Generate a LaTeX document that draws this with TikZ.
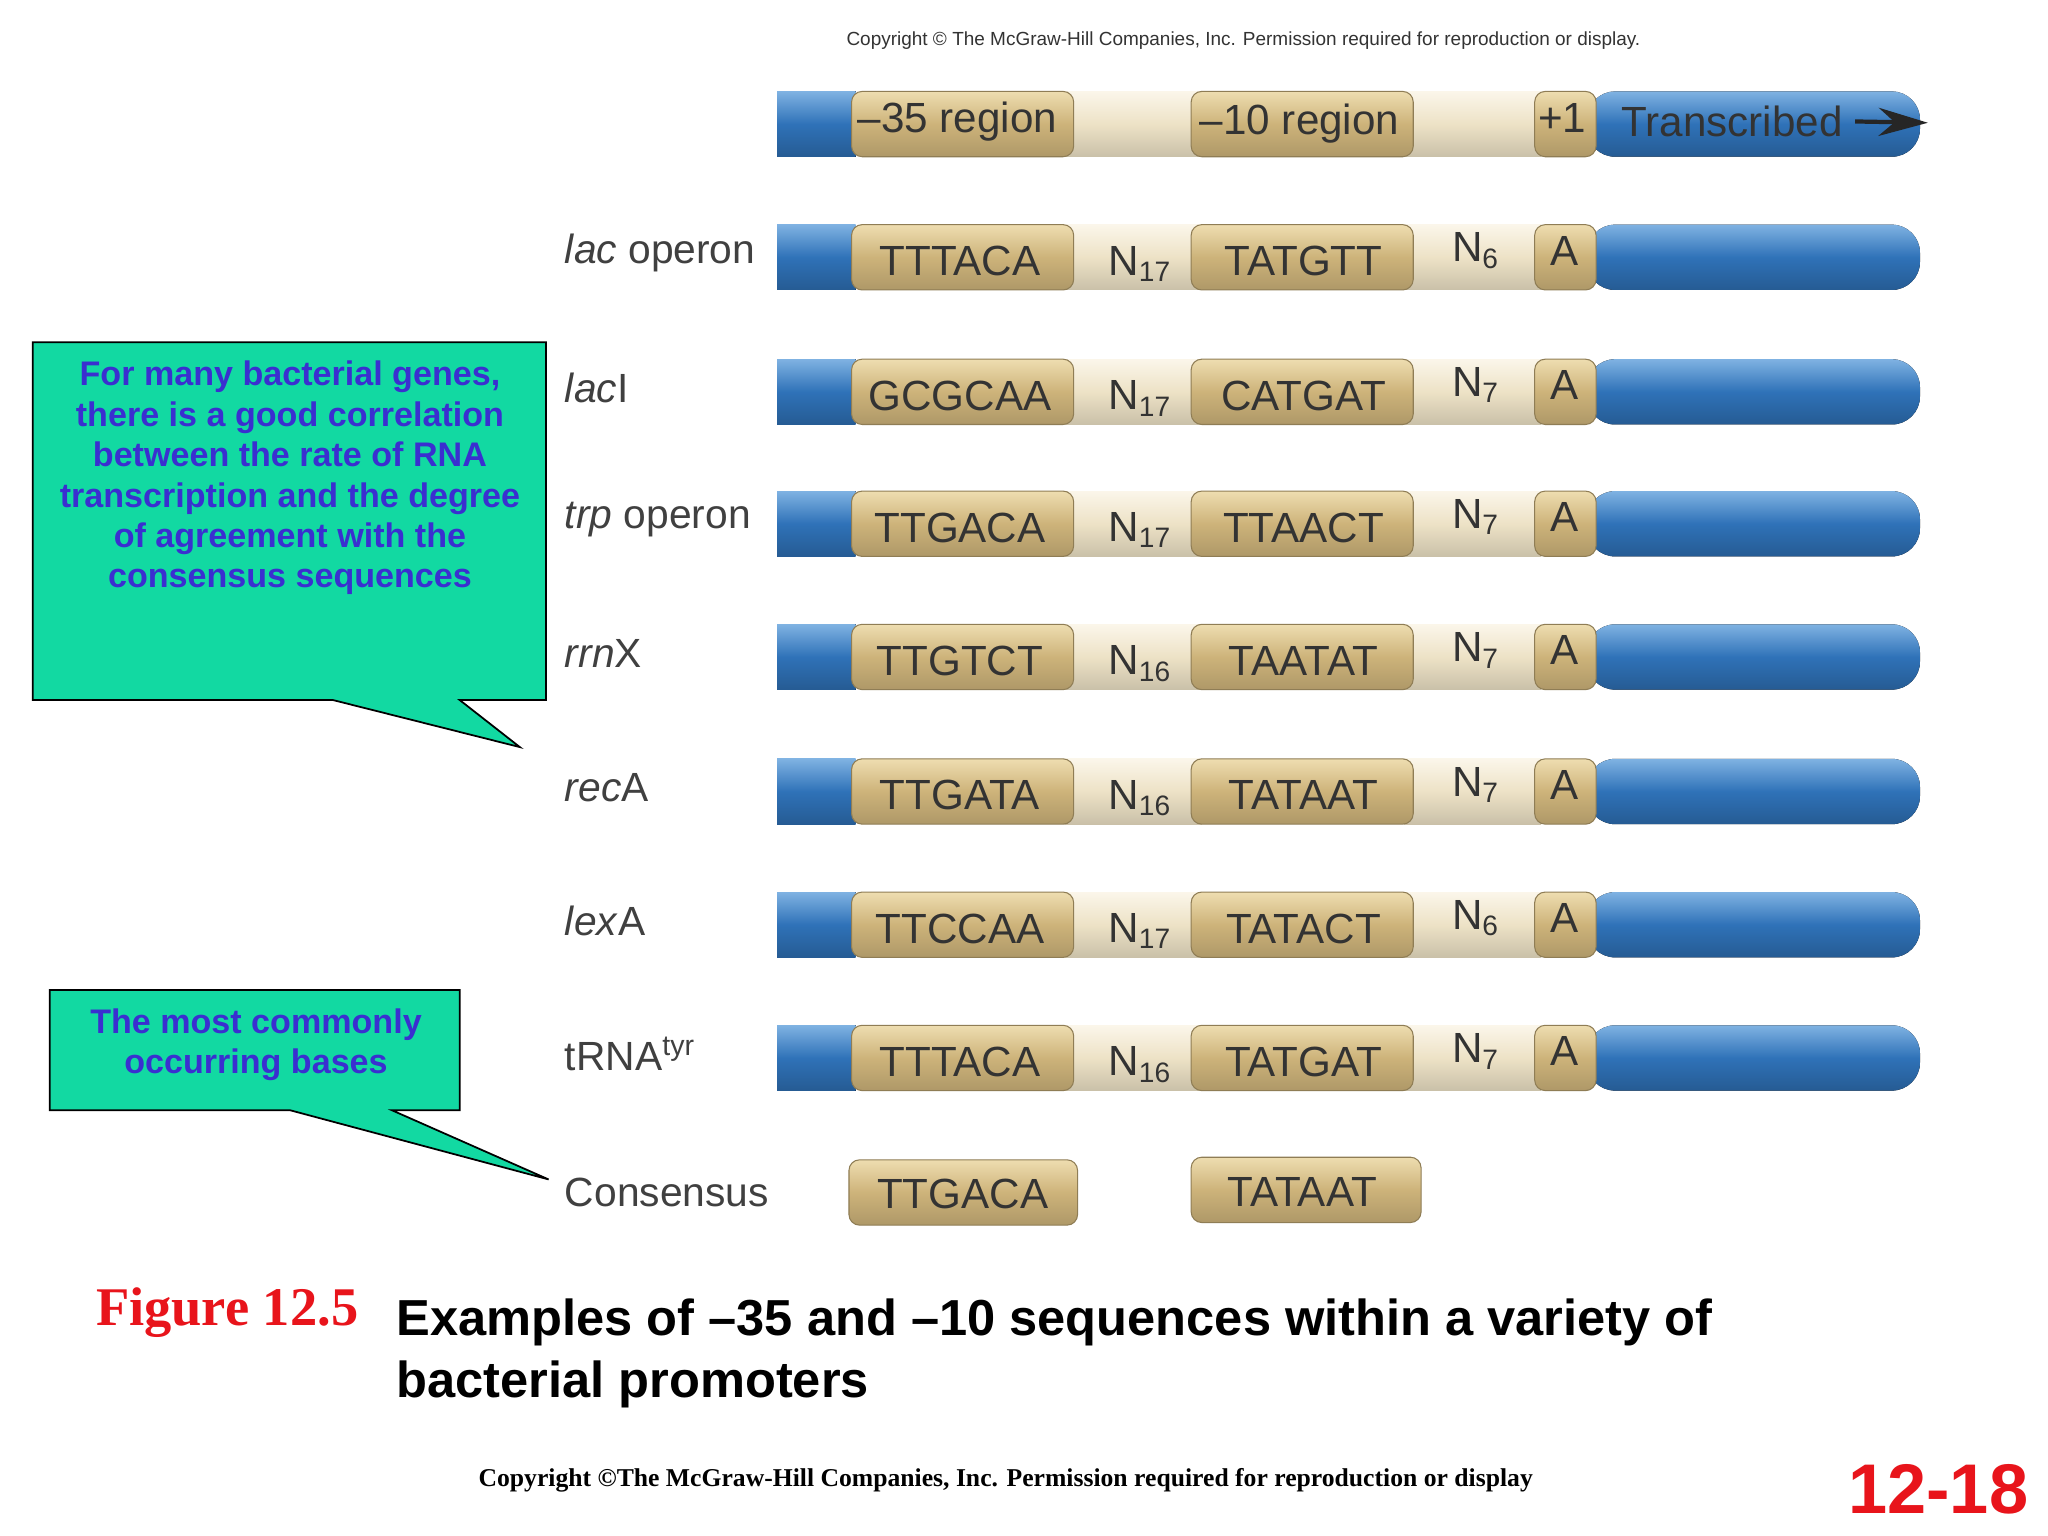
\documentclass[tikz,border=0pt]{standalone}
\usepackage{fontspec}
\setmainfont{Liberation Sans}
\newfontfamily\serif{Liberation Serif}
\usetikzlibrary{arrows.meta}
\definecolor{bluem}{HTML}{2F72B8}
\definecolor{bluel}{HTML}{7FB2E2}
\definecolor{tanm}{HTML}{CDB37A}
\definecolor{tanl}{HTML}{EEDDB0}
\definecolor{lightm}{HTML}{EDE2C6}
\definecolor{lightl}{HTML}{FBF6EA}
\definecolor{calloutg}{HTML}{12D9A2}
\definecolor{callt}{HTML}{3A2FD0}
\definecolor{figred}{HTML}{E8141B}
\tikzset{
 bluecyl/.style={top color=bluel,bottom color=bluem!80!black,middle color=bluem},
 tancyl/.style={top color=tanl,bottom color=tanm!85!black,middle color=tanm,draw=tanm!70!black,line width=0.3pt,rounded corners=3},
 ncyl/.style={top color=lightl,bottom color=lightm!85!black,middle color=lightm},
 seqtxt/.style={font=\fontsize{12}{14}\selectfont,text=black!80},
 rowlab/.style={font=\fontsize{11.6}{14}\selectfont,text=black!75,anchor=west,inner sep=0pt},
 callout/.style={fill=calloutg,draw=black,line width=0.5pt},
 calltxt/.style={font=\bfseries\fontsize{9.7}{11.5}\selectfont,text=callt,align=center},
}
\newcommand\prow[8]{%
 \fill[bluecyl] (595,#1-25) rectangle (655,#1+25);
 \fill[bluecyl,rounded corners=8] (1215,#1-25) rectangle (1470,#1+25);
 \fill[ncyl] (815,#1-25) rectangle (920,#1+25);
 \fill[ncyl] (1075,#1-25) rectangle (1180,#1+25);
 \path[tancyl] (652,#1-25) rectangle (822,#1+25);
 \path[tancyl] (912,#1-25) rectangle (1082,#1+25);
 \path[tancyl] (1175,#1-25) rectangle (1222,#1+25);
 \node[rowlab] (lab#8) at (432,#1-3) {#2};
 \node[seqtxt] (s#8) at (735,#1+3) {#3};
 \node[seqtxt] (n#8) at (873,#1+5) {#4};
 \node[seqtxt] (t#8) at (998,#1+3) {#5};
 \node[seqtxt] (m#8) at (1130,#1-5) {#6};
 \node[seqtxt] (a#8) at (1198,#1-5) {#7};
}
\begin{document}
\begin{tikzpicture}[x=0.013061cm,y=-0.013061cm]
\useasboundingbox (0,0) rectangle (1568,1176);
\fill[white] (0,0) rectangle (1568,1176);
\node[font=\fontsize{5.4}{6.5}\selectfont,text=black!80] (cpt) at (952,31) {Copyright © The McGraw-Hill Companies, Inc. Permission required for reproduction or display.};
% header
\fill[bluecyl] (595,70) rectangle (655,120);
\fill[bluecyl,rounded corners=8] (1215,70) rectangle (1470,120);
\fill[ncyl] (815,70) rectangle (920,120);
\fill[ncyl] (1075,70) rectangle (1180,120);
\path[tancyl] (652,70) rectangle (822,120);
\path[tancyl] (912,70) rectangle (1082,120);
\path[tancyl] (1175,70) rectangle (1222,120);
\node[seqtxt] (h1) at (733,93) {–35 region};
\node[seqtxt] (h2) at (995,95) {–10 region};
\node[seqtxt] (h3) at (1196,90) {+1};
\node[seqtxt,anchor=west] (h4) at (1232,93) {Transcribed};
\coordinate (arrE) at (1476,94);
\draw[-{Stealth[length=14pt,width=8pt]},line width=1.2pt,black!85] (h4.east) -- (arrE);
\prow{197}{\textit{lac} operon}{TTTACA}{N\textsubscript{17}}{TATGTT}{N\textsubscript{6}}{A}{1}
\prow{300}{\textit{lac}I}{GCGCAA}{N\textsubscript{17}}{CATGAT}{N\textsubscript{7}}{A}{2}
\prow{401}{\textit{trp} operon}{TTGACA}{N\textsubscript{17}}{TTAACT}{N\textsubscript{7}}{A}{3}
\prow{503}{\textit{rrn}X}{TTGTCT}{N\textsubscript{16}}{TAATAT}{N\textsubscript{7}}{A}{4}
\prow{606}{\textit{rec}A}{TTGATA}{N\textsubscript{16}}{TATAAT}{N\textsubscript{7}}{A}{5}
\prow{708}{\textit{lex}A}{TTCCAA}{N\textsubscript{17}}{TATACT}{N\textsubscript{6}}{A}{6}
\prow{810}{tRNA\textsuperscript{tyr}}{TTTACA}{N\textsubscript{16}}{TATGAT}{N\textsubscript{7}}{A}{7}
% consensus
\path[tancyl] (650,888) rectangle (825,938);
\path[tancyl] (912,886) rectangle (1088,936);
\node[rowlab] (lab8) at (432,913) {Consensus};
\node[seqtxt] (s8) at (737,914) {TTGACA};
\node[seqtxt] (t8) at (997,913) {TATAAT};
% callouts
\draw[callout] (25,262) -- (418,262) -- (418,536) -- (352,536) -- (398,572) -- (255,536) -- (25,536) -- cycle;
\node[calltxt] (c1) at (222,366) {For many bacterial genes,\\there is a good correlation\\between the rate of RNA\\transcription and the degree\\of agreement with the\\consensus sequences};
\draw[callout] (38,758) -- (352,758) -- (352,850) -- (300,850) -- (420,903) -- (222,850) -- (38,850) -- cycle;
\node[calltxt] (c2) at (196,800) {The most commonly\\occurring bases};
% caption
\node[anchor=west,font=\serif\bfseries\fontsize{15.5}{18}\selectfont,text=figred] (fig) at (64,1005) {Figure 12.5};
\node[anchor=north west,font=\bfseries\fontsize{14.4}{17.6}\selectfont,align=left] (cap) at (294,985) {Examples of –35 and –10 sequences within a variety of\\bacterial promoters};
\node[font=\serif\bfseries\fontsize{7.3}{9}\selectfont] (cpb) at (770,1133) {Copyright ©The McGraw-Hill Companies, Inc. Permission required for reproduction or display};
\node[font=\bfseries\fontsize{20}{22}\selectfont,text=figred] (pg) at (1484,1140) {12-18};
\end{tikzpicture}
\end{document}
